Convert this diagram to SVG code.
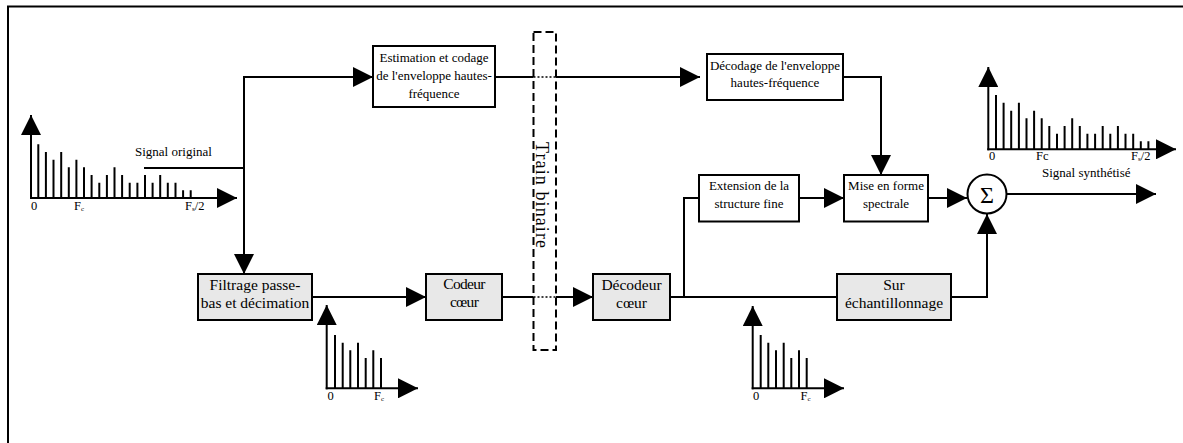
<svg xmlns="http://www.w3.org/2000/svg" width="1183" height="443" viewBox="0 0 1183 443">
<defs>
<marker id="ah" markerUnits="userSpaceOnUse" markerWidth="20" markerHeight="20" refX="20" refY="10" orient="auto">
<path d="M0,0 L20,10 L0,20 z" fill="#000"/>
</marker>
<style>
.ln{fill:none;stroke:#000;stroke-width:2}
.arr{fill:none;stroke:#000;stroke-width:2;marker-end:url(#ah)}
.dot{fill:none;stroke:#000;stroke-width:1.5;stroke-dasharray:2,2}
.box{fill:#fff;stroke:#000;stroke-width:2}
.gbox{fill:#e8e8e8;stroke:#000;stroke-width:2}
text{font-family:'Liberation Serif','Times New Roman','DejaVu Serif',serif;fill:#000}
.t13{font-size:13px;text-anchor:middle}
.t15{font-size:15.5px;text-anchor:middle}
.lab{font-size:13px}
.ax{font-size:12.5px}
.bar{fill:none;stroke:#000;stroke-width:2}
</style>
</defs>
<rect width="1183" height="443" fill="#fff"/>
<path class="ln" d="M8,443 V6.5 H1183" stroke-width="2.5"/>

<g font-family="'Liberation Serif','Times New Roman',serif">
<g id="train">
<rect x="533.5" y="32" width="22.5" height="318" fill="none" stroke="#000" stroke-width="2" stroke-dasharray="8,4"/>
<text transform="translate(535.5,195) rotate(90)" style="font-size:18px;text-anchor:middle" textLength="106" lengthAdjust="spacing">Train binaire</text>
</g>

<g id="connectors">
<path class="ln" d="M144,168 H244"/>
<path class="arr" d="M244,168 V77 H373"/>
<path class="arr" d="M244,168 V274"/>
<path class="ln" d="M495,77 H533.5"/>
<path class="dot" d="M533.5,77 H556"/>
<path class="arr" d="M556,77 H700"/>
<path class="arr" d="M843,77 H881 V175"/>
<path class="arr" d="M312,297 H426"/>
<path class="ln" d="M502,297 H533.5"/>
<path class="dot" d="M533.5,297 H556"/>
<path class="arr" d="M556,297 H593"/>
<path class="ln" d="M670,297 H837"/>
<path class="ln" d="M684,297 V198 H699"/>
<path class="arr" d="M799,198 H844"/>
<path class="arr" d="M928,198 H967"/>
<path class="arr" d="M951,297 H987 V214"/>
<path class="arr" d="M1006.5,194 H1156"/>
</g>

<g id="estimation">
<rect class="box" x="373" y="46" width="122" height="61"/>
<text class="t13" x="434" y="62">Estimation et codage</text>
<text class="t13" x="434" y="80">de l'enveloppe hautes-</text>
<text class="t13" x="434" y="98">fréquence</text>
</g>
<g id="decodage">
<rect class="box" x="707" y="54" width="136" height="46"/>
<text class="t13" x="775" y="70">Décodage de l'enveloppe</text>
<text class="t13" x="775" y="87">hautes-fréquence</text>
</g>
<g id="filtrage">
<rect class="gbox" x="198" y="274" width="114" height="46"/>
<text class="t15" x="255" y="290">Filtrage passe-</text>
<text class="t15" x="255" y="308">bas et décimation</text>
</g>
<g id="codeur">
<rect class="gbox" x="426" y="274" width="76" height="46"/>
<text class="t15" x="464" y="289" letter-spacing="-0.7">Codeur</text>
<text class="t15" x="464" y="307" letter-spacing="-0.7">cœur</text>
</g>
<g id="decodeur">
<rect class="gbox" x="593" y="274" width="77" height="46"/>
<text class="t15" x="631.5" y="290">Décodeur</text>
<text class="t15" x="631.5" y="308">cœur</text>
</g>
<g id="extension">
<rect class="box" x="699" y="175" width="100" height="46.5"/>
<text class="t13" x="749" y="190">Extension de la</text>
<text class="t13" x="749" y="208">structure fine</text>
</g>
<g id="mise">
<rect class="box" x="844" y="175" width="84" height="46.5"/>
<text class="t13" x="886" y="190">Mise en forme</text>
<text class="t13" x="886" y="208">spectrale</text>
</g>
<g id="sur">
<rect class="gbox" x="837" y="274" width="114" height="46"/>
<text class="t15" x="894" y="290">Sur</text>
<text class="t15" x="894" y="308">échantillonnage</text>
</g>
<g id="sigma">
<circle cx="987" cy="194" r="19.5" fill="#fff" stroke="#000" stroke-width="2"/>
<text x="987" y="202.5" style="font-size:24px;text-anchor:middle">Σ</text>
</g>

<g id="labels">
<text class="lab" x="135" y="156">Signal original</text>
<text class="lab" x="1042" y="177">Signal synthétisé</text>
</g>

<g id="spectrum1">
<path class="arr" d="M31,199 V115"/>
<path class="arr" d="M30,198 H237"/>
<path class="bar" d="M38.3,198v-53.7M45.9,198v-46M53.5,198v-38.3M61.2,198v-46M68.8,198v-30.7M76.4,198v-38.3M84,198v-30.7M91.6,198v-23M99.3,198v-15.3M106.9,198v-23M114.5,198v-30.7M122.1,198v-23M129.7,198v-15.3M137.4,198v-15.3M145,198v-23M152.6,198v-15.3M160.2,198v-23M167.8,198v-15.3M175.5,198v-15.3M183.1,198v-7.7M190.7,198v-7.7"/>
<text class="ax" x="31" y="210">0</text>
<text class="ax" x="74" y="210">F<tspan font-size="7" dy="1">c</tspan></text>
<text class="ax" x="185" y="210">F<tspan font-size="7" dy="1">s</tspan><tspan dy="-1">/2</tspan></text>
</g>

<g id="spectrum2">
<path class="arr" d="M988.3,150.3 V67"/>
<path class="arr" d="M987.3,149.3 H1176"/>
<path class="bar" d="M996,149.3v-54.3M1003.6,149.3v-46.6M1011.2,149.3v-38.6M1018.9,149.3v-46.6M1026.5,149.3v-31M1034.1,149.3v-38.6M1041.7,149.3v-31M1049.3,149.3v-23.3M1057,149.3v-15.6M1064.6,149.3v-23.3M1072.2,149.3v-31M1079.8,149.3v-23.3M1087.4,149.3v-15.6M1095.1,149.3v-15.6M1102.7,149.3v-23.3M1110.3,149.3v-15.6M1117.9,149.3v-23.3M1125.5,149.3v-15.6M1133.2,149.3v-15.6M1140.8,149.3v-8M1148.4,149.3v-8"/>
<text class="ax" x="989" y="160">0</text>
<text class="ax" x="1036" y="160">Fc</text>
<text class="ax" x="1131" y="160">F<tspan font-size="7" dy="1">s</tspan><tspan dy="-1">/2</tspan></text>
</g>

<g id="spectrum3">
<path class="arr" d="M326.7,389.3 V305"/>
<path class="arr" d="M325.7,388.3 H418"/>
<path class="bar" d="M335,388.3v-53.3M342.7,388.3v-45.6M350.3,388.3v-38M358,388.3v-45.6M365.7,388.3v-30.3M373.3,388.3v-38M381,388.3v-30.3"/>
<text class="ax" x="327.5" y="400">0</text>
<text class="ax" x="374" y="400">F<tspan font-size="7" dy="1">c</tspan></text>
</g>

<g id="spectrum4">
<path class="arr" d="M752.7,389.3 V306"/>
<path class="arr" d="M751.7,388.3 H844"/>
<path class="bar" d="M760.7,388.3v-53.3M768.3,388.3v-45.6M776,388.3v-38M783.7,388.3v-45.6M791.3,388.3v-30.3M799,388.3v-38M806.7,388.3v-30.3"/>
<text class="ax" x="753" y="400">0</text>
<text class="ax" x="800.5" y="400">F<tspan font-size="7" dy="1">c</tspan></text>
</g>
</g>
</svg>
